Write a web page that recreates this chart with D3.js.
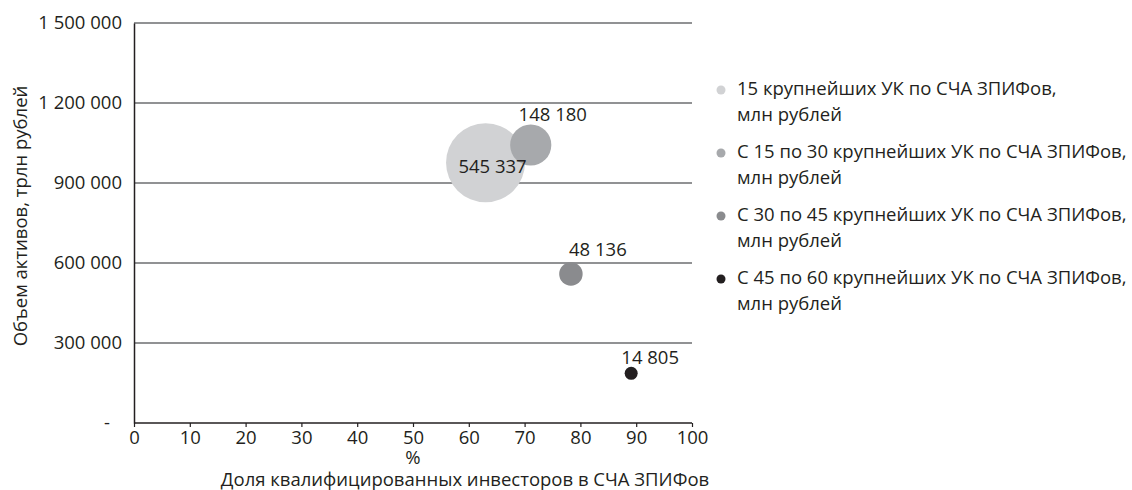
<!DOCTYPE html>
<html>
<head>
<meta charset="utf-8">
<script src="https://cdn.jsdelivr.net/npm/d3@7"></script>
<style>
  html, body { margin: 0; padding: 0; background: #fff; }
  svg { display: block; font-family: "Open Sans", "Noto Sans", sans-serif; }
</style>
</head>
<body>
<svg id="chart" width="1132" height="490"></svg>
<script>
// ---- data ----
const seriesNames = [
  "15 крупнейших УК по СЧА ЗПИФов, млн рублей",
  "С 15 по 30 крупнейших УК по СЧА ЗПИФов, млн рублей",
  "С 30 по 45 крупнейших УК по СЧА ЗПИФов, млн рублей",
  "С 45 по 60 крупнейших УК по СЧА ЗПИФов, млн рублей"
];
const qualShare = [63.0, 71.1, 78.3, 89.1];          // x, %
const assetVolume = [976000, 1042500, 558750, 186400]; // y
const navValues = [545337, 148180, 48136, 14805];      // bubble size
const navLabels = ["545 337", "148 180", "48 136", "14 805"];
const xTickValues = [0, 10, 20, 30, 40, 50, 60, 70, 80, 90, 100];
const yTickValues = [0, 300000, 600000, 900000, 1200000, 1500000];
const yTickLabels = ["-", "300 000", "600 000", "900 000", "1 200 000", "1 500 000"];
const xUnit = "%";
const xTitle = "Доля квалифицированных инвесторов в СЧА ЗПИФов";
const yTitle = "Объем активов, трлн рублей";

// ---- styles / layout ----
const colors = ["#d1d2d4", "#a7a9ac", "#8a8b8e", "#231f20"];
const labelOffsets = [[7, 4], [22, -30], [27, -24], [19, -16]];
const fs = 18.5;
const textColor = "#231f20";

const svg = d3.select("#chart");
const x = d3.scaleLinear().domain([0, 100]).range([134, 692]);
const y = d3.scaleLinear().domain([0, 1500000]).range([423, 23]);
const r = d3.scaleSqrt().domain([0, 545337]).range([0, 39.5]);

// gridlines
svg.append("g").selectAll("line")
  .data(yTickValues.filter(v => v > 0))
  .join("line")
  .attr("x1", x(0)).attr("x2", x(100))
  .attr("y1", d => y(d)).attr("y2", d => y(d))
  .attr("stroke", "#6d6e71").attr("stroke-width", 1.3);

// y axis
const yAxis = d3.axisLeft(y).tickValues(yTickValues)
  .tickFormat((d, i) => yTickLabels[i]).tickSize(0).tickPadding(12);
const gy = svg.append("g").attr("transform", `translate(${x(0)},0)`).call(yAxis);
gy.select(".domain").attr("stroke", textColor).attr("stroke-width", 1.5);
gy.selectAll("text").attr("font-size", fs).attr("fill", textColor)
  .attr("font-family", '"Open Sans", sans-serif')
  .attr("dx", d => d === 0 ? -12 : 0);

// x axis
const xAxis = d3.axisBottom(x).tickValues(xTickValues).tickSize(4).tickPadding(4)
  .tickFormat(d3.format("d"));
const gx = svg.append("g").attr("transform", `translate(0,${y(0)})`).call(xAxis);
gx.select(".domain").attr("stroke", textColor).attr("stroke-width", 1.5).attr("d", `M${x(0)},0H${x(100)}`);
gx.selectAll(".tick line").attr("stroke", textColor).attr("stroke-width", 1.2);
gx.selectAll("text").attr("font-size", fs).attr("fill", textColor)
  .attr("font-family", '"Open Sans", sans-serif');

// bubbles
const pts = qualShare.map((v, i) => ({ x: v, y: assetVolume[i], n: navValues[i], l: navLabels[i], i }));
svg.append("g").selectAll("circle")
  .data(pts).join("circle")
  .attr("cx", d => x(d.x)).attr("cy", d => y(d.y)).attr("r", d => r(d.n))
  .attr("fill", d => colors[d.i]);

svg.append("g").selectAll("text")
  .data(pts).join("text")
  .attr("x", d => x(d.x) + labelOffsets[d.i][0])
  .attr("y", d => y(d.y) + labelOffsets[d.i][1])
  .attr("dy", "0.35em")
  .attr("text-anchor", "middle")
  .attr("font-size", fs).attr("fill", textColor)
  .text(d => d.l);

// axis titles
svg.append("text").attr("x", (x(0) + x(100)) / 2).attr("y", 464)
  .attr("text-anchor", "middle").attr("font-size", fs).attr("fill", textColor).text(xUnit);
svg.append("text").attr("x", 465).attr("y", 486)
  .attr("text-anchor", "middle").attr("font-size", fs).attr("fill", textColor).text(xTitle);
svg.append("text")
  .attr("transform", `translate(27,216) rotate(-90)`)
  .attr("text-anchor", "middle").attr("font-size", fs).attr("fill", textColor).text(yTitle);

// legend
const lg = svg.append("g").selectAll("g").data(seriesNames).join("g")
  .attr("transform", (d, i) => `translate(721,${90 + i * 63})`);
lg.append("circle").attr("r", 4.5).attr("fill", (d, i) => colors[i]);
lg.each(function(d) {
  const parts = d.split(", ");
  const t = d3.select(this).append("text").attr("font-size", fs).attr("fill", textColor);
  t.append("tspan").attr("x", 16).attr("y", 5).text(parts[0] + ",");
  t.append("tspan").attr("x", 16).attr("y", 31).text(parts.slice(1).join(", "));
});
</script>
</body>
</html>
